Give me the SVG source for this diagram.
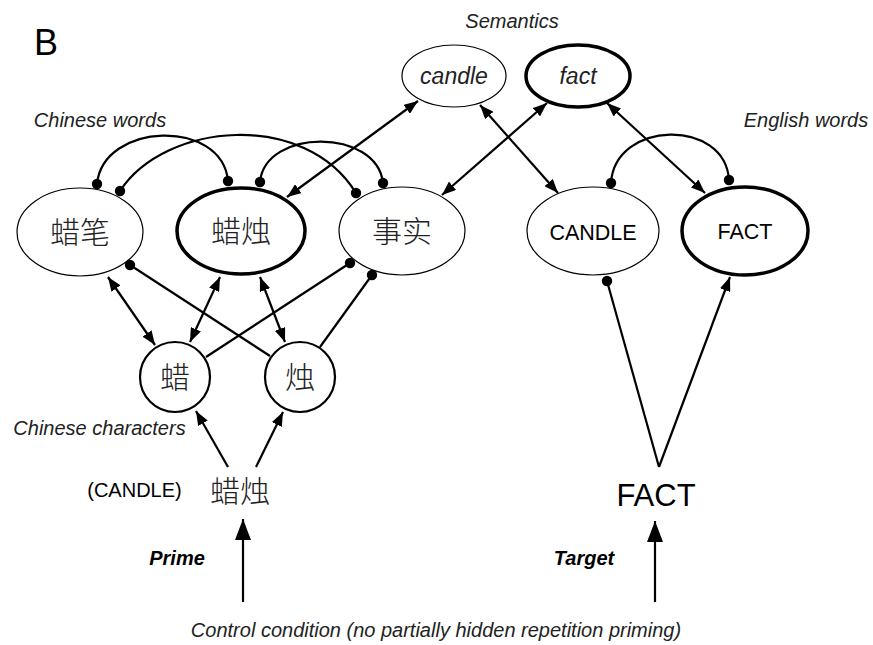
<svg xmlns="http://www.w3.org/2000/svg" width="873" height="645" viewBox="0 0 873 645">
<defs>
<marker id="arr" markerUnits="userSpaceOnUse" markerWidth="15" markerHeight="11" refX="14" refY="5.5" orient="auto-start-reverse"><path d="M0,0 L14,5.5 L0,11 z" fill="#000"/></marker>
<marker id="big" markerUnits="userSpaceOnUse" markerWidth="22" markerHeight="16" refX="21" refY="8" orient="auto"><path d="M0,0 L21,8 L0,16 z" fill="#000"/></marker>
<marker id="dot" markerUnits="userSpaceOnUse" markerWidth="12" markerHeight="12" refX="6" refY="6"><circle cx="6" cy="6" r="5.2" fill="#000"/></marker>
<style>
.n{fill:#fff;stroke:#000;stroke-width:1.2}
.nb{fill:#fff;stroke:#000;stroke-width:3.5}
.c{fill:#fff;stroke:#000;stroke-width:2.2}
.l{fill:none;stroke:#000;stroke-width:2.2}
.t{font-family:"Liberation Sans",Arial,sans-serif;fill:#000}
.i{font-family:"Liberation Sans",Arial,sans-serif;font-style:italic;fill:#222}
.zh{font-family:"Noto Sans CJK SC","Noto Sans CJK TC",sans-serif;font-weight:300;fill:#222}
</style>
</defs>
<rect width="873" height="645" fill="#fff"/>
<text class="t" x="34" y="55" font-size="36">B</text>
<text class="i" x="512" y="28" font-size="20" text-anchor="middle">Semantics</text>
<text class="i" x="100" y="127" font-size="20" text-anchor="middle">Chinese words</text>
<text class="i" x="806" y="127" font-size="20" text-anchor="middle">English words</text>
<text class="i" x="99.5" y="435" font-size="20" text-anchor="middle">Chinese characters</text>
<text class="t" x="134.5" y="497" font-size="20" text-anchor="middle">(CANDLE)</text>
<text class="zh" x="240" y="502" font-size="30" text-anchor="middle">蜡烛</text>
<text class="t" x="656" y="506" font-size="31" text-anchor="middle">FACT</text>
<text class="t" x="177" y="565" font-size="20" font-weight="bold" font-style="italic" text-anchor="middle">Prime</text>
<text class="t" x="584" y="565" font-size="20" font-weight="bold" font-style="italic" text-anchor="middle">Target</text>
<text class="i" x="436" y="637" font-size="20" text-anchor="middle">Control condition (no partially hidden repetition priming)</text>

<g id="n-labi"><ellipse class="n" cx="80" cy="232" rx="63" ry="44"/><text class="zh" x="80" y="243" font-size="30" text-anchor="middle">蜡笔</text></g>
<g id="n-lazhu"><ellipse class="nb" cx="241" cy="231" rx="64" ry="43"/><text class="zh" x="241" y="242" font-size="30" text-anchor="middle">蜡烛</text></g>
<g id="n-shishi"><ellipse class="n" cx="402" cy="231" rx="63" ry="44"/><text class="zh" x="402" y="242" font-size="30" text-anchor="middle">事实</text></g>
<g id="n-candle-sem"><ellipse class="n" cx="454" cy="76" rx="52" ry="31"/><text class="i" x="454" y="84" font-size="23" text-anchor="middle" fill="#000">candle</text></g>
<g id="n-fact-sem"><ellipse class="nb" cx="578" cy="76" rx="52" ry="31"/><text class="i" x="578" y="84" font-size="23" text-anchor="middle" fill="#000">fact</text></g>
<g id="n-CANDLE"><ellipse class="n" cx="593" cy="231" rx="66" ry="44"/><text class="t" x="593" y="240" font-size="21.5" text-anchor="middle">CANDLE</text></g>
<g id="n-FACT"><ellipse class="nb" cx="745" cy="231" rx="63" ry="44"/><text class="t" x="745" y="239" font-size="21.5" text-anchor="middle">FACT</text></g>
<g id="n-la"><circle class="c" cx="175" cy="377" r="35"/><text class="zh" x="175" y="388" font-size="30" text-anchor="middle">蜡</text></g>
<g id="n-zhu"><circle class="c" cx="300" cy="377" r="35"/><text class="zh" x="300" y="388" font-size="30" text-anchor="middle">烛</text></g>

<g id="connectors">
<path class="l" d="M97,184 C103,122 222,118 228,181" marker-start="url(#dot)" marker-end="url(#dot)"/>
<path class="l" d="M120,191 C165,122 305,110 356,193" marker-start="url(#dot)" marker-end="url(#dot)"/>
<path class="l" d="M260,182 C265,128 377,128 383,183" marker-start="url(#dot)" marker-end="url(#dot)"/>
<path class="l" d="M611,183 C615,120 725,118 729,180" marker-start="url(#dot)" marker-end="url(#dot)"/>
<line class="l" x1="418" y1="101" x2="287" y2="197" marker-start="url(#arr)" marker-end="url(#arr)"/>
<line class="l" x1="547" y1="103" x2="442" y2="195" marker-start="url(#arr)" marker-end="url(#arr)"/>
<line class="l" x1="480" y1="105" x2="558" y2="193" marker-start="url(#arr)" marker-end="url(#arr)"/>
<line class="l" x1="607" y1="103" x2="705" y2="193" marker-start="url(#arr)" marker-end="url(#arr)"/>
<line class="l" x1="108" y1="277" x2="155" y2="345" marker-start="url(#arr)" marker-end="url(#arr)"/>
<line class="l" x1="220" y1="277" x2="190" y2="342" marker-start="url(#arr)" marker-end="url(#arr)"/>
<line class="l" x1="260" y1="277" x2="285" y2="342" marker-start="url(#arr)" marker-end="url(#arr)"/>
<line class="l" x1="130" y1="265" x2="270" y2="356" marker-start="url(#dot)"/>
<line class="l" x1="350" y1="263" x2="206" y2="357" marker-start="url(#dot)"/>
<line class="l" x1="372" y1="275" x2="320" y2="347" marker-start="url(#dot)"/>
<line class="l" x1="228" y1="467" x2="196" y2="411" marker-end="url(#arr)"/>
<line class="l" x1="256" y1="467" x2="283" y2="412" marker-end="url(#arr)"/>
<line class="l" x1="659" y1="467" x2="607" y2="281" marker-end="url(#dot)"/>
<line class="l" x1="659" y1="467" x2="730" y2="277" marker-end="url(#arr)"/>
<line class="l" x1="243" y1="602" x2="243" y2="519" stroke-width="3.2" marker-end="url(#big)"/>
<line class="l" x1="655" y1="602" x2="655" y2="521" stroke-width="3.2" marker-end="url(#big)"/>
</g>
</svg>
